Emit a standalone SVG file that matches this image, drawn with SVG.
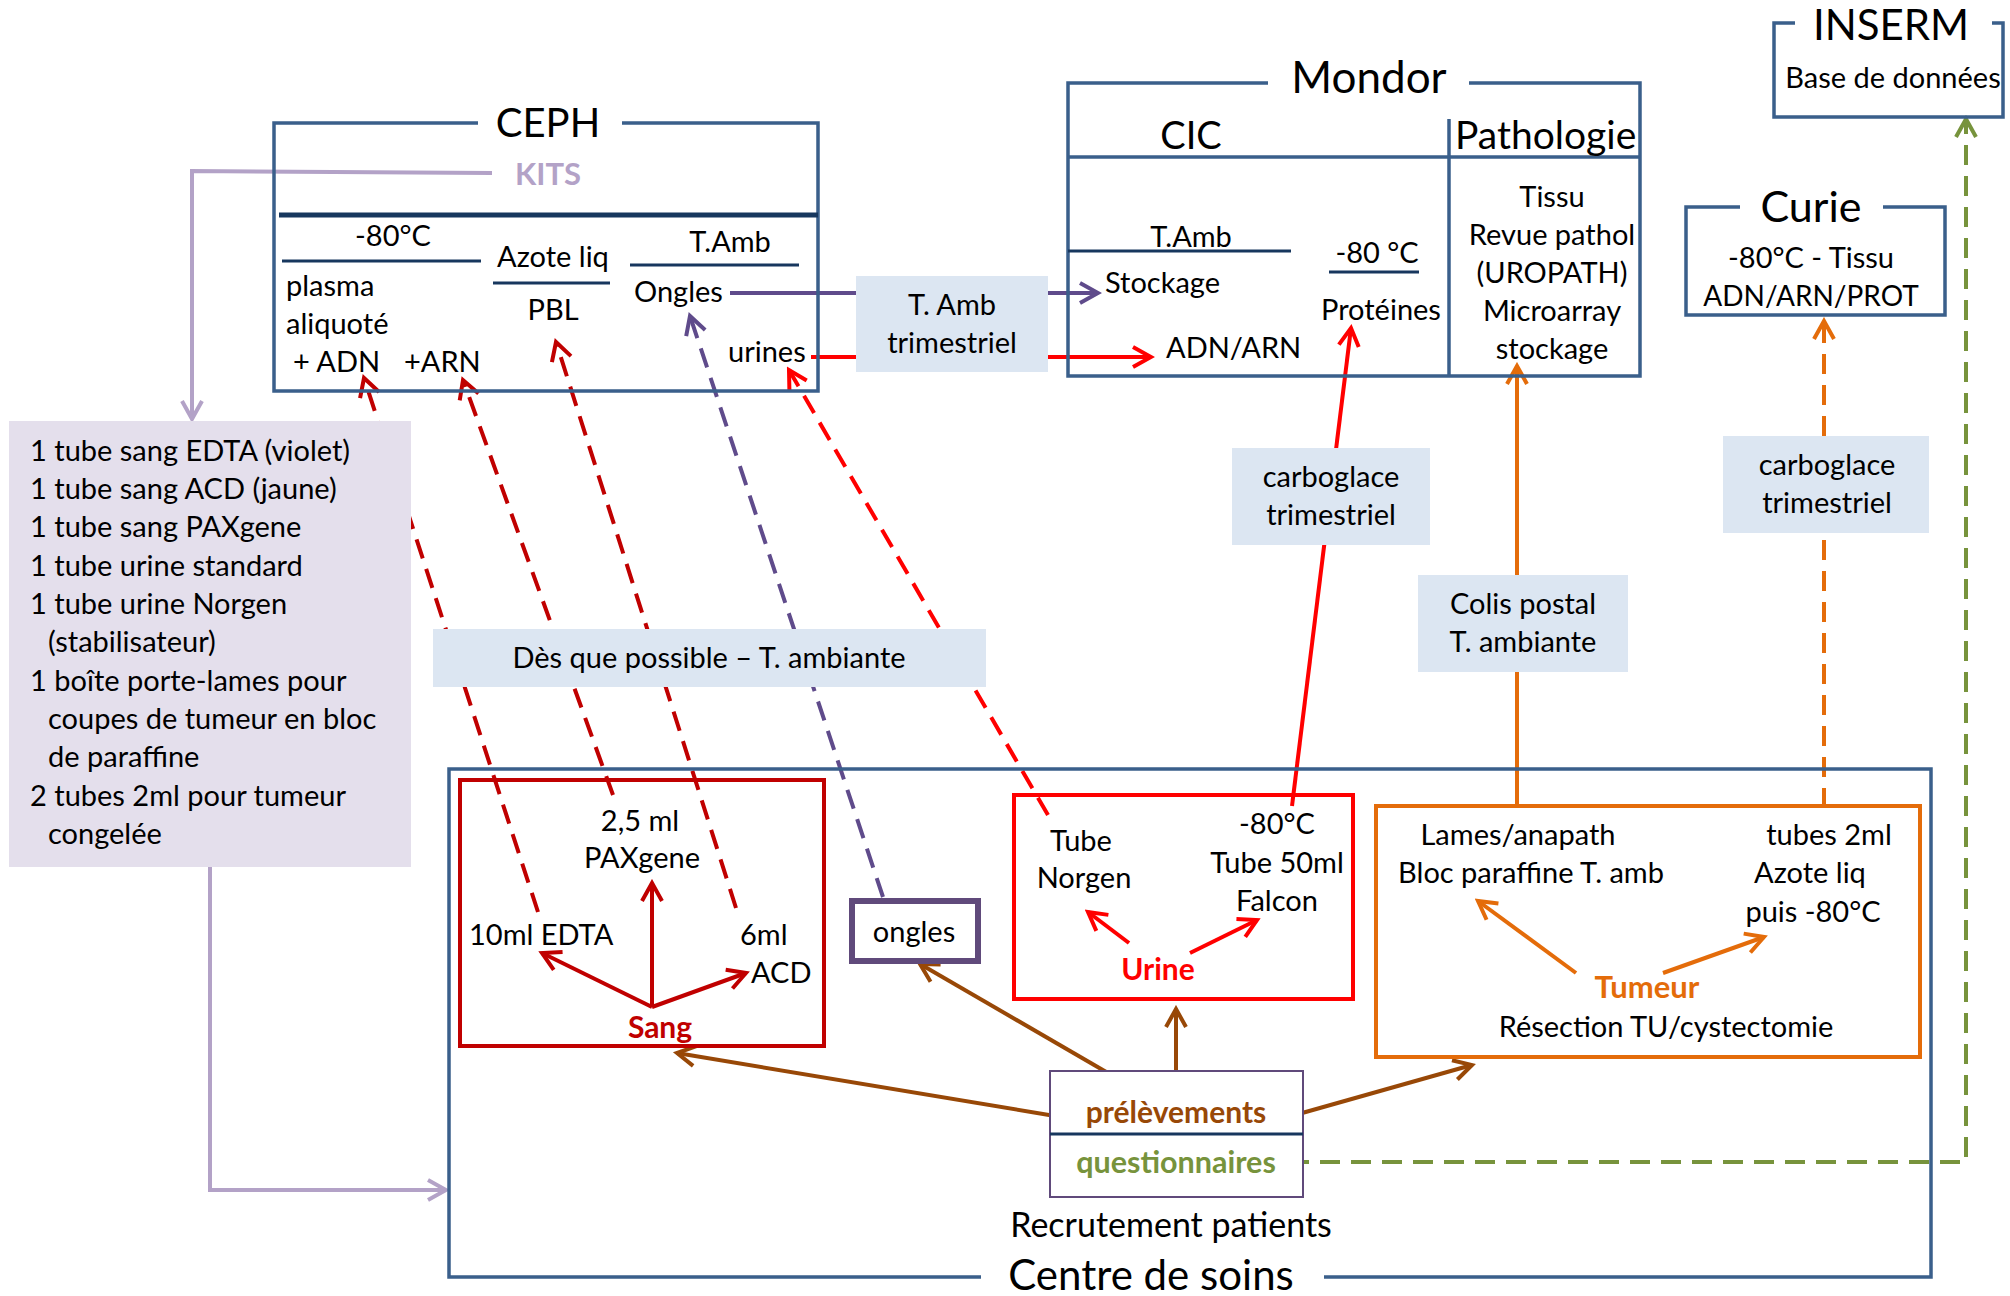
<svg xmlns="http://www.w3.org/2000/svg" width="2010" height="1296" viewBox="0 0 2010 1296">
<defs>
<style>
.t{font-family:Lato,"Liberation Sans",sans-serif;font-size:29px;fill:#000}
.c{text-anchor:middle}
.b{font-weight:bold;font-size:30px}
.ttl{font-size:40px}
.sub{font-size:38px}
.frame{fill:none;stroke:#3A5F8B;stroke-width:3.5}
.div{fill:none;stroke:#17375E;stroke-width:3}
.lbl{fill:#DCE6F2}
.ln{fill:none;stroke-width:4}
.dash{stroke-dasharray:20 11}
</style>
<marker id="aK" viewBox="-22 -14 26 28" refX="0" refY="0" markerWidth="26" markerHeight="28" orient="auto" markerUnits="userSpaceOnUse"><path d="M-18,-10 L0,0 L-18,10" fill="none" stroke="#B3A2C7" stroke-width="4"/></marker>
<marker id="aP" viewBox="-22 -14 26 28" refX="0" refY="0" markerWidth="26" markerHeight="28" orient="auto" markerUnits="userSpaceOnUse"><path d="M-18,-10 L0,0 L-18,10" fill="none" stroke="#5F4B8B" stroke-width="4"/></marker>
<marker id="aR" viewBox="-22 -14 26 28" refX="0" refY="0" markerWidth="26" markerHeight="28" orient="auto" markerUnits="userSpaceOnUse"><path d="M-18,-10 L0,0 L-18,10" fill="none" stroke="#FF0000" stroke-width="4"/></marker>
<marker id="aD" viewBox="-22 -14 26 28" refX="0" refY="0" markerWidth="26" markerHeight="28" orient="auto" markerUnits="userSpaceOnUse"><path d="M-18,-10 L0,0 L-18,10" fill="none" stroke="#C00000" stroke-width="4"/></marker>
<marker id="aO" viewBox="-22 -14 26 28" refX="0" refY="0" markerWidth="26" markerHeight="28" orient="auto" markerUnits="userSpaceOnUse"><path d="M-18,-10 L0,0 L-18,10" fill="none" stroke="#E46C0A" stroke-width="4"/></marker>
<marker id="aB" viewBox="-22 -14 26 28" refX="0" refY="0" markerWidth="26" markerHeight="28" orient="auto" markerUnits="userSpaceOnUse"><path d="M-18,-10 L0,0 L-18,10" fill="none" stroke="#984807" stroke-width="4"/></marker>
<marker id="aG" viewBox="-22 -14 26 28" refX="0" refY="0" markerWidth="26" markerHeight="28" orient="auto" markerUnits="userSpaceOnUse"><path d="M-18,-10 L0,0 L-18,10" fill="none" stroke="#77933C" stroke-width="4"/></marker>
</defs>
<rect width="2010" height="1296" fill="#fff"/>

<g id="connectors">
<polyline class="ln" stroke="#B3A2C7" points="492,173 192,171 192,419" marker-end="url(#aK)"/>
<polyline class="ln" stroke="#B3A2C7" points="210,867 210,1190 446,1190" marker-end="url(#aK)"/>
<line class="ln" stroke="#5F4B8B" x1="730" y1="293" x2="1098" y2="293" marker-end="url(#aP)"/>
<line class="ln" stroke="#FF0000" x1="811" y1="357" x2="1151" y2="357" marker-end="url(#aR)"/>
<line class="ln dash" stroke="#C00000" x1="538" y1="912" x2="364" y2="378" marker-end="url(#aD)"/>
<line class="ln dash" stroke="#C00000" x1="613" y1="795" x2="463" y2="380" marker-end="url(#aD)"/>
<line class="ln dash" stroke="#C00000" x1="736" y1="908" x2="556" y2="342" marker-end="url(#aD)"/>
<line class="ln dash" stroke="#FF0000" x1="1048" y1="815" x2="789" y2="370" marker-end="url(#aR)"/>
<line class="ln dash" stroke="#5F4B8B" x1="883" y1="897" x2="690" y2="316" marker-end="url(#aP)"/>
<line class="ln" stroke="#FF0000" x1="1292" y1="806" x2="1351" y2="328" marker-end="url(#aR)"/>
<line class="ln" stroke="#E46C0A" x1="1517" y1="808" x2="1517" y2="366" marker-end="url(#aO)"/>
<line class="ln dash" stroke="#E46C0A" x1="1824" y1="808" x2="1824" y2="321" marker-end="url(#aO)"/>
<polyline class="ln dash" stroke="#77933C" points="1289,1162 1966,1162 1966,119" marker-end="url(#aG)"/>
<line class="ln" stroke="#984807" x1="1061" y1="1117" x2="677" y2="1053" marker-end="url(#aB)"/>
<line class="ln" stroke="#984807" x1="1139" y1="1091" x2="920" y2="964" marker-end="url(#aB)"/>
<line class="ln" stroke="#984807" x1="1176" y1="1090" x2="1176" y2="1009" marker-end="url(#aB)"/>
<line class="ln" stroke="#984807" x1="1288" y1="1117" x2="1472" y2="1065" marker-end="url(#aB)"/>
<line class="ln" stroke="#C00000" x1="652" y1="1007" x2="652" y2="883" marker-end="url(#aD)"/>
<line class="ln" stroke="#C00000" x1="652" y1="1007" x2="542" y2="953" marker-end="url(#aD)"/>
<line class="ln" stroke="#C00000" x1="652" y1="1007" x2="746" y2="973" marker-end="url(#aD)"/>
<line class="ln" stroke="#FF0000" x1="1129" y1="943" x2="1088" y2="912" marker-end="url(#aR)"/>
<line class="ln" stroke="#FF0000" x1="1190" y1="953" x2="1257" y2="920" marker-end="url(#aR)"/>
<line class="ln" stroke="#E46C0A" x1="1576" y1="973" x2="1478" y2="901" marker-end="url(#aO)"/>
<line class="ln" stroke="#E46C0A" x1="1663" y1="973" x2="1764" y2="937" marker-end="url(#aO)"/>
</g>

<g id="ceph">
<path class="frame" d="M478,123 L274,123 L274,391 L818,391 L818,123 L622,123"/>
<text class="t c ttl" x="548" y="137">CEPH</text>
<text class="t c b" x="548" y="185" style="fill:#B3A2C7;font-size:31px">KITS</text>
<line class="div" x1="279" y1="215" x2="818" y2="215" style="stroke-width:5"/>
<line class="div" x1="282" y1="261" x2="481" y2="261"/>
<line class="div" x1="493" y1="283" x2="610" y2="283"/>
<line class="div" x1="630" y1="265" x2="799" y2="265"/>
<text class="t c" x="393" y="246">-80°C</text>
<text class="t c" x="553" y="267">Azote liq</text>
<text class="t c" x="553" y="320">PBL</text>
<text class="t c" x="730" y="252">T.Amb</text>
<text class="t" x="286" y="296">plasma</text>
<text class="t" x="286" y="334">aliquoté</text>
<text class="t" x="293" y="372">+ ADN</text>
<text class="t" x="404" y="372">+ARN</text>
<text class="t" x="634" y="302">Ongles</text>
<text class="t" x="728" y="362">urines</text>
</g>

<g id="tamb-label">
<rect class="lbl" x="856" y="276" width="192" height="96"/>
<text class="t c" x="952" y="315">T. Amb</text>
<text class="t c" x="952" y="353">trimestriel</text>
</g>

<g id="mondor">
<path class="frame" d="M1268,83 L1068,83 L1068,376 L1640,376 L1640,83 L1469,83"/>
<line class="frame" x1="1068" y1="157" x2="1640" y2="157"/>
<line class="frame" x1="1449" y1="119" x2="1449" y2="376"/>
<text class="t c" x="1369" y="93" style="font-size:44px">Mondor</text>
<text class="t c sub" x="1191" y="149">CIC</text>
<text class="t sub" x="1455" y="149" style="font-size:39px">Pathologie</text>
<line class="div" x1="1068" y1="251" x2="1291" y2="251"/>
<line class="div" x1="1329" y1="272" x2="1419" y2="272"/>
<text class="t c" x="1191" y="247">T.Amb</text>
<text class="t c" x="1377" y="263">-80 °C</text>
<text class="t" x="1105" y="293">Stockage</text>
<text class="t" x="1166" y="358">ADN/ARN</text>
<text class="t" x="1321" y="320">Protéines</text>
<text class="t c" x="1552" y="207">Tissu</text>
<text class="t c" x="1552" y="245">Revue pathol</text>
<text class="t c" x="1552" y="283">(UROPATH)</text>
<text class="t c" x="1552" y="321">Microarray</text>
<text class="t c" x="1552" y="359">stockage</text>
</g>

<g id="inserm">
<path class="frame" d="M1795,23 L1774,23 L1774,117 L2003,117 L2003,23 L1992,23"/>
<text class="t c" x="1891" y="40" style="font-size:42px">INSERM</text>
<text class="t c" x="1893" y="88">Base de données</text>
</g>

<g id="curie">
<path class="frame" d="M1740,207 L1686,207 L1686,315 L1945,315 L1945,207 L1883,207"/>
<text class="t c" x="1811" y="222" style="font-size:43px">Curie</text>
<text class="t c" x="1811" y="268">-80°C - Tissu</text>
<text class="t c" x="1811" y="306" style="font-size:28px">ADN/ARN/PROT</text>
</g>

<g id="carbo1">
<rect class="lbl" x="1232" y="448" width="198" height="97"/>
<text class="t c" x="1331" y="487">carboglace</text>
<text class="t c" x="1331" y="525">trimestriel</text>
</g>
<g id="colis">
<rect class="lbl" x="1418" y="575" width="210" height="97"/>
<text class="t c" x="1523" y="614">Colis postal</text>
<text class="t c" x="1523" y="652">T. ambiante</text>
</g>
<g id="carbo2">
<rect class="lbl" x="1723" y="436" width="206" height="97"/>
<text class="t c" x="1827" y="475">carboglace</text>
<text class="t c" x="1827" y="513">trimestriel</text>
</g>
<g id="des-que">
<rect class="lbl" x="433" y="629" width="553" height="58"/>
<text class="t c" x="709" y="668">Dès que possible – T. ambiante</text>
</g>

<g id="kits">
<rect x="9" y="421" width="402" height="446" fill="#E4DFEC"/>
<text class="t" x="30" y="461">1 tube sang EDTA (violet)</text>
<text class="t" x="30" y="499">1 tube sang ACD (jaune)</text>
<text class="t" x="30" y="537">1 tube sang PAXgene</text>
<text class="t" x="30" y="576">1 tube urine standard</text>
<text class="t" x="30" y="614">1 tube urine Norgen</text>
<text class="t" x="48" y="652">(stabilisateur)</text>
<text class="t" x="30" y="691">1 boîte porte-lames pour</text>
<text class="t" x="48" y="729">coupes de tumeur en bloc</text>
<text class="t" x="48" y="767">de paraffine</text>
<text class="t" x="30" y="806">2 tubes 2ml pour tumeur</text>
<text class="t" x="48" y="844">congelée</text>
</g>

<g id="centre">
<path class="frame" d="M981,1277 L449,1277 L449,769 L1931,769 L1931,1277 L1324,1277"/>
<text class="t c" x="1151" y="1290" style="font-size:42px">Centre de soins</text>
<text class="t c" x="1171" y="1237" style="font-size:34px">Recrutement patients</text>
</g>

<g id="sang">
<rect x="460" y="780" width="364" height="266" fill="none" stroke="#C00000" stroke-width="4"/>
<text class="t c" x="640" y="831">2,5 ml</text>
<text class="t c" x="642" y="868">PAXgene</text>
<text class="t" x="469" y="945">10ml EDTA</text>
<text class="t" x="740" y="945">6ml</text>
<text class="t" x="751" y="983">ACD</text>
<text class="t c b" x="660" y="1038" style="fill:#C00000">Sang</text>
</g>

<g id="ongles">
<rect x="852" y="901" width="126" height="60" fill="none" stroke="#604A7B" stroke-width="6"/>
<text class="t c" x="914" y="942">ongles</text>
</g>

<g id="urine">
<rect x="1014" y="795" width="339" height="204" fill="none" stroke="#FF0000" stroke-width="4"/>
<text class="t c" x="1081" y="851">Tube</text>
<text class="t c" x="1084" y="888">Norgen</text>
<text class="t c" x="1277" y="834">-80°C</text>
<text class="t c" x="1277" y="873">Tube 50ml</text>
<text class="t c" x="1277" y="911">Falcon</text>
<text class="t c b" x="1158" y="980" style="fill:#FF0000">Urine</text>
</g>

<g id="tumeur">
<rect x="1376" y="806" width="544" height="251" fill="none" stroke="#E46C0A" stroke-width="4"/>
<text class="t c" x="1518" y="845">Lames/anapath</text>
<text class="t c" x="1531" y="883">Bloc paraffine T. amb</text>
<text class="t c" x="1829" y="845">tubes 2ml</text>
<text class="t c" x="1810" y="883">Azote liq</text>
<text class="t c" x="1813" y="922">puis -80°C</text>
<text class="t c b" x="1647" y="998" style="fill:#E46C0A;font-size:31px">Tumeur</text>
<text class="t c" x="1666" y="1037">Résection TU/cystectomie</text>
</g>

<g id="prelevements">
<rect x="1050" y="1071" width="253" height="126" fill="#fff" stroke="#604A7B" stroke-width="2"/>
<line class="div" x1="1050" y1="1134" x2="1303" y2="1134"/>
<text class="t c b" x="1176" y="1123" style="fill:#984807">prélèvements</text>
<text class="t c b" x="1176" y="1173" style="fill:#77933C;font-size:30.5px">questionnaires</text>
</g>
</svg>
